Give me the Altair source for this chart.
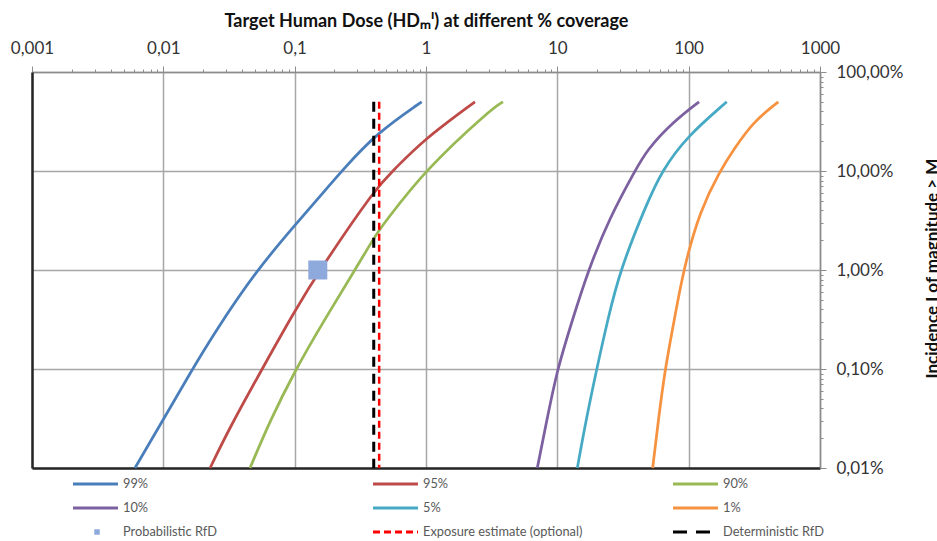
import altair as alt
import pandas as pd

# ---- coverage curves: target human dose vs. incidence of effect magnitude ----
coverage = ["99%", "95%", "90%", "10%", "5%", "1%"]
coverage_colors = ["#4a7ebb", "#be4b48", "#98b954", "#7d60a0", "#46aac5", "#f69240"]

dose_99 = [0.00608, 0.00994, 0.0160, 0.0244, 0.0514, 0.1037, 0.164, 0.228, 0.421, 0.927]
inc_99 = [0.0001, 0.000305, 0.00091, 0.00231, 0.01, 0.0298, 0.060, 0.1, 0.242, 0.5]

dose_95 = [0.0227, 0.0322, 0.0577, 0.0977, 0.155, 0.421, 0.56, 0.954, 2.36]
inc_95 = [0.0001, 0.00026, 0.00105, 0.00365, 0.01, 0.0694, 0.1, 0.206, 0.5]

dose_90 = [0.0457, 0.0649, 0.100, 0.165, 0.288, 0.421, 0.484, 0.982, 3.07, 3.86]
inc_90 = [0.0001, 0.0003, 0.00095, 0.003, 0.01, 0.0235, 0.03, 0.102, 0.413, 0.5]

dose_10 = [7.04, 8.3, 10.0, 12.9, 17.2, 25.2, 39.0, 48.0, 76.4, 120.0]
inc_10 = [0.0001, 0.0003, 0.001, 0.003, 0.01, 0.0345, 0.1, 0.163, 0.315, 0.5]

dose_5 = [14.2, 16.5, 19.95, 24.0, 30.0, 48.0, 62.4, 96.6, 195.0]
inc_5 = [0.0001, 0.0003, 0.001, 0.003, 0.01, 0.047, 0.1, 0.222, 0.5]

dose_1 = [53.2, 58.7, 66.1, 77.3, 91.0, 122.0, 173.0, 219.0, 310.0, 482.0]
inc_1 = [0.0001, 0.0003, 0.001, 0.003, 0.01, 0.04, 0.1, 0.163, 0.315, 0.5]

# ---- reference values ----
probabilistic_rfd_dose = 0.15
probabilistic_rfd_incidence = 0.01
exposure_estimate = 0.44
deterministic_rfd = 0.40
reference_incidence_span = [0.5, 0.0001]

# ---- axes ----
dose_decades = [0.001, 0.01, 0.1, 1, 10, 100, 1000]
incidence_decades = [0.0001, 0.001, 0.01, 0.1, 1]

legend_labels = coverage + ["Probabilistic RfD", "Exposure estimate (optional)", "Deterministic RfD"]
legend_kinds = ["line"] * 6 + ["square", "dash", "dash"]
legend_colors = coverage_colors + ["#8ea9db", "#ff0000", "#000000"]
legend_dashes = [[1, 0]] * 6 + [[1, 0], [7, 4], [14, 9]]

FONT = "Lato"

curves = pd.concat(
    [
        pd.DataFrame({"series": name, "dose": d, "incidence": i})
        for name, d, i in zip(
            coverage,
            [dose_99, dose_95, dose_90, dose_10, dose_5, dose_1],
            [inc_99, inc_95, inc_90, inc_10, inc_5, inc_1],
        )
    ],
    ignore_index=True,
)

exposure_df = pd.DataFrame(
    {"dose": [exposure_estimate], "top": [reference_incidence_span[0]], "bottom": [reference_incidence_span[1]]}
)
deterministic_df = pd.DataFrame(
    {"dose": [deterministic_rfd], "top": [reference_incidence_span[0]], "bottom": [reference_incidence_span[1]]}
)
rfd_df = pd.DataFrame({"dose": [probabilistic_rfd_dose], "incidence": [probabilistic_rfd_incidence]})

legend_df = pd.DataFrame(
    {
        "label": legend_labels,
        "kind": legend_kinds,
        "col": [i % 3 for i in range(len(legend_labels))],
        "row": [i // 3 for i in range(len(legend_labels))],
    }
)

x_ticks = [m * d for d in dose_decades[:-1] for m in range(1, 10)] + [dose_decades[-1]]
y_ticks = [m * d for d in incidence_decades[:-1] for m in range(1, 10)] + [incidence_decades[-1]]

decade_test = "abs(log(datum.value) / LN10 - round(log(datum.value) / LN10)) < 1e-6"

x_scale = alt.Scale(type="log", domain=[dose_decades[0], dose_decades[-1]], nice=False)
y_scale = alt.Scale(type="log", domain=[incidence_decades[0], incidence_decades[-1]], nice=False)

top_axis = alt.Axis(
    orient="top",
    values=x_ticks,
    labelExpr=f"{decade_test} ? replace(toString(datum.value), '.', ',') : ''",
    labelOverlap=False,
    labelFlush=False,
    labelFont=FONT,
    labelFontSize=17,
    labelColor="#333333",
    labelPadding=9,
    tickSize={"condition": {"test": decade_test, "value": 6}, "value": 3},
    tickColor="#8c8c8c",
    tickWidth=1,
    grid=True,
    gridColor="#a6a6a6",
    gridWidth=1.5,
    gridOpacity={"condition": {"test": decade_test, "value": 1}, "value": 0},
    domainColor="#8c8c8c",
    domainWidth=1.5,
    title="Target Human Dose (HDₘᴵ) at different % coverage",
    titleFont=FONT,
    titleFontSize=18,
    titleFontWeight="bold",
    titleColor="#111111",
    titleBaseline="alphabetic",
    titleY=-46,
)

right_axis = alt.Axis(
    orient="right",
    values=y_ticks,
    labelExpr=f"{decade_test} ? replace(format(datum.value, '.2%'), '.', ',') : ''",
    labelOverlap=False,
    labelFlush=False,
    labelFont=FONT,
    labelFontSize=17,
    labelColor="#333333",
    labelPadding=10,
    tickSize={"condition": {"test": decade_test, "value": 6}, "value": 3},
    tickColor="#8c8c8c",
    tickWidth=1,
    grid=True,
    gridColor="#a6a6a6",
    gridWidth=1.5,
    gridOpacity={"condition": {"test": decade_test, "value": 1}, "value": 0},
    domainColor="#8c8c8c",
    domainWidth=1.5,
    title="Incidence I of magnitude > M",
    titleFont=FONT,
    titleFontSize=17,
    titleFontWeight="bold",
    titleColor="#111111",
    titleAngle=270,
    titleAlign="center",
    titleBaseline="top",
    titleX=104,
    titleY=196,
)

frame_x = alt.Axis(orient="bottom", labels=False, ticks=False, grid=False, title=None,
                   domainColor="#262626", domainWidth=2.5)
frame_y = alt.Axis(orient="left", labels=False, ticks=False, grid=False, title=None,
                   domainColor="#262626", domainWidth=2.5)

curve_layer = alt.Chart(curves).mark_line(strokeWidth=2.75, interpolate="basis").encode(
    x=alt.X("dose:Q", scale=x_scale, axis=top_axis),
    y=alt.Y("incidence:Q", scale=y_scale, axis=right_axis),
    color=alt.Color("series:N", scale=alt.Scale(domain=coverage, range=coverage_colors), legend=None),
)

deterministic_layer = alt.Chart(deterministic_df).mark_rule(
    color="#000000", strokeWidth=3, strokeDash=[10, 7]
).encode(
    x=alt.X("dose:Q", scale=x_scale, axis=frame_x),
    y=alt.Y("top:Q", scale=y_scale, axis=frame_y),
    y2="bottom:Q",
)

exposure_layer = alt.Chart(exposure_df).mark_rule(
    color="#ff0000", strokeWidth=2.5, strokeDash=[7, 4]
).encode(
    x=alt.X("dose:Q", scale=x_scale, axis=None),
    y=alt.Y("top:Q", scale=y_scale, axis=None),
    y2="bottom:Q",
)

rfd_layer = alt.Chart(rfd_df).mark_point(
    shape="square", filled=True, size=361, opacity=1, color="#8ea9db"
).encode(
    x=alt.X("dose:Q", scale=x_scale, axis=None),
    y=alt.Y("incidence:Q", scale=y_scale, axis=None),
)

main = alt.layer(curve_layer, deterministic_layer, exposure_layer, rfd_layer).resolve_axis(
    x="independent", y="independent"
)

# ---- legend block: 3 columns x 3 rows beneath the plot ----
leg_x = alt.X("col:Q", scale=alt.Scale(domain=[0, 3], range=[0, 900]), axis=None)
leg_y = alt.Y("row:Q", scale=alt.Scale(domain=[0, 2], range=[412, 460]), axis=None)
leg_color = alt.Color("label:N", scale=alt.Scale(domain=legend_labels, range=legend_colors), legend=None)

legend_base = alt.Chart(legend_df)

legend_lines = legend_base.transform_filter("datum.kind != 'square'").mark_rule(
    strokeWidth=3, xOffset=41, x2Offset=86
).encode(
    x=leg_x,
    x2="col:Q",
    y=leg_y,
    color=leg_color,
    strokeDash=alt.StrokeDash(
        "label:N", scale=alt.Scale(domain=legend_labels, range=legend_dashes), legend=None
    ),
)

legend_square = legend_base.transform_filter("datum.kind == 'square'").mark_point(
    shape="square", filled=True, size=30, opacity=1, xOffset=65
).encode(x=leg_x, y=leg_y, color=leg_color)

legend_text = legend_base.mark_text(
    align="left", baseline="middle", dx=91, font=FONT, fontSize=12.8, color="#595959"
).encode(x=leg_x, y=leg_y, text="label:N")

legend_block = alt.layer(legend_lines, legend_square, legend_text)

chart = (
    alt.layer(main, legend_block)
    .resolve_scale(x="independent", y="independent", color="independent", strokeDash="independent")
    .properties(
        width=788,
        height=396,
        autosize=alt.AutoSizeParams(type="none"),
        padding={"left": 32, "top": 72, "right": 117, "bottom": 73},
        background="white",
    )
    .configure_view(stroke=None)
)

chart.save("out.html", embed_options={"renderer": "svg", "actions": False})
